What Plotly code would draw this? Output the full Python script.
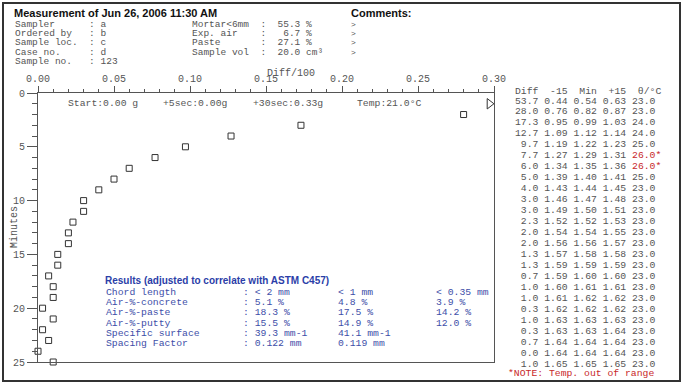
import plotly.graph_objects as go

# ---------------- data ----------------
minutes = list(range(1, 26))
diff = [53.7, 28.0, 17.3, 12.7, 9.7, 7.7, 6.0, 5.0, 4.0, 3.0, 3.0, 2.3, 2.0,
        2.0, 1.3, 1.3, 0.7, 1.0, 1.0, 0.3, 1.0, 0.3, 0.7, 0.0, 1.0]
minus15 = [0.44, 0.76, 0.95, 1.09, 1.19, 1.27, 1.34, 1.39, 1.43, 1.46, 1.49, 1.52, 1.54,
           1.56, 1.57, 1.59, 1.59, 1.60, 1.61, 1.62, 1.63, 1.63, 1.64, 1.64, 1.65]
at_min = [0.54, 0.82, 0.99, 1.12, 1.22, 1.29, 1.35, 1.40, 1.44, 1.47, 1.50, 1.52, 1.54,
          1.56, 1.58, 1.59, 1.60, 1.61, 1.62, 1.62, 1.63, 1.63, 1.64, 1.64, 1.65]
plus15 = [0.63, 0.87, 1.03, 1.14, 1.23, 1.31, 1.36, 1.41, 1.45, 1.48, 1.51, 1.53, 1.55,
          1.57, 1.58, 1.59, 1.60, 1.61, 1.62, 1.62, 1.63, 1.64, 1.64, 1.64, 1.65]
temp_c = [23.0, 23.0, 24.0, 24.0, 25.0, 26.0, 26.0, 25.0, 23.0, 23.0, 23.0, 23.0, 23.0,
          23.0, 23.0, 23.0, 23.0, 23.0, 23.0, 23.0, 23.0, 23.0, 23.0, 23.0, 23.0]
temp_limit = 25.0

info_labels = ["Sampler", "Ordered by", "Sample loc.", "Case no.", "Sample no."]
info_values = ["a", "b", "c", "d", "123"]
mix_labels = ["Mortar<6mm", "Exp. air", "Paste", "Sample vol"]
mix_values = ["55.3", "6.7", "27.1", "20.0"]
mix_units = ["%", "%", "%", "cm³"]

run_notes = ["Start:0.00 g", "+5sec:0.00g", "+30sec:0.33g", "Temp:21.0°C"]

res_labels = ["Chord length", "Air-%-concrete", "Air-%-paste", "Air-%-putty",
              "Specific surface", "Spacing Factor"]
res_col1 = ["< 2 mm", "5.1 %", "18.3 %", "15.5 %", "39.3 mm-1", "0.122 mm"]
res_col2 = ["< 1 mm", "4.8 %", "17.5 %", "14.9 %", "41.1 mm-1", "0.119 mm"]
res_col3 = ["< 0.35 mm", "3.9 %", "14.2 %", "12.0 %", "", ""]

XMAX = 0.30
YMAX = 25

# ---------------- geometry helpers ----------------
FW, FH = 685, 386
L, R, T, B = 38, 494, 93, 362
PW, PH = R - L, B - T

MONO = "Courier New, Liberation Mono, monospace"
SANS = "Arial, Liberation Sans, sans-serif"
GRAY = "#555555"
BLUE = "#2b3ea8"
BLUE2 = "#3d4ea8"
RED = "#c8282a"

annotations = []


def ann(x, y, text, size=10, color=GRAY, family=MONO, xanchor="left", angle=0):
    annotations.append(dict(
        x=(x - L) / PW, y=1 - (y - T) / PH, xref="paper", yref="paper",
        text=text, showarrow=False, xanchor=xanchor, yanchor="middle",
        textangle=angle, borderpad=0,
        font=dict(family=family, size=size, color=color)))


def nb(s):
    return s.replace(" ", "&nbsp;")


# ---------------- figure ----------------
in_x = [min(d / 100, XMAX) for d in diff]
on_scale = [d / 100 <= XMAX for d in diff]

fig = go.Figure()
fig.add_trace(go.Scatter(
    x=[x for x, ok in zip(in_x, on_scale) if ok],
    y=[m for m, ok in zip(minutes, on_scale) if ok],
    mode="markers", cliponaxis=False,
    marker=dict(symbol="square-open", size=6, color="#333333", line=dict(width=1, color="#333333")),
    hoverinfo="x+y"))
fig.add_trace(go.Scatter(
    x=[x - 0.003 for x, ok in zip(in_x, on_scale) if not ok],
    y=[m for m, ok in zip(minutes, on_scale) if not ok],
    mode="markers", cliponaxis=False,
    marker=dict(symbol="triangle-right-open", size=9, color="#333333", line=dict(width=1, color="#333333")),
    hoverinfo="y"))

# header
ann(13, 13, "<b>Measurement of Jun 26, 2006 11:30 AM</b>", size=11, color="#111111", family=SANS)
ann(350, 13, "<b>Comments:</b>", size=11, color="#111111", family=SANS)
row_y = [24.5, 33.5, 42.5, 52, 61]
for i, (lab, val) in enumerate(zip(info_labels, info_values)):
    ann(14, row_y[i], nb(f"{lab:<13}: {val}"), size=9.5)
for i, (lab, val, unit) in enumerate(zip(mix_labels, mix_values, mix_units)):
    ann(191, row_y[i], nb(f"{lab:<12}:  {val:>4} {unit}"), size=9.5)
    ann(350, row_y[i], "&gt;", size=8)

# axis title / run notes
ann(266, 73, "Diff/100", size=10)
ann(14, 227, "Minutes", size=10, angle=-90, xanchor="center")
for x, txt in zip([67, 162, 252, 356], run_notes):
    ann(x, 103, txt, size=9.75)

# results block
ann(104, 280, "<b>Results (adjusted to correlate with ASTM C457)</b>", size=10, color=BLUE, family=SANS)
for i in range(len(res_labels)):
    y = 292.3 + i * 10.3
    ann(105, y, res_labels[i], size=9.75, color=BLUE2)
    ann(242, y, nb(": " + res_col1[i]), size=9.75, color=BLUE2)
    ann(337, y, nb(res_col2[i]), size=9.75, color=BLUE2)
    if res_col3[i]:
        ann(435, y, nb(res_col3[i]), size=9.75, color=BLUE2)

# right table
ann(514, 91, nb("Diff  -15  Min  +15  θ/°C"), size=9.75)
for i in range(len(minutes)):
    y = 101 + i * 10.96
    base = f"{diff[i]:4.1f} {minus15[i]:.2f} {at_min[i]:.2f} {plus15[i]:.2f} "
    if temp_c[i] > temp_limit:
        t = f'<span style="color:{RED}">{temp_c[i]:.1f}*</span>'
    else:
        t = f"{temp_c[i]:.1f}"
    ann(514, y, nb(base) + t, size=9.75)
ann(507, 373, nb("*NOTE: Temp. out of range"), size=9.75, color=RED)

shapes = [dict(type="rect", xref="paper", yref="paper",
               x0=(3 - L) / PW, x1=(680 - L) / PW,
               y0=1 - (3 - T) / PH, y1=1 - (381 - T) / PH,
               line=dict(color="#333333", width=2), layer="below")]

fig.update_layout(
    width=FW, height=FH,
    margin=dict(l=L, r=FW - R, t=T, b=FH - B, pad=0, autoexpand=False),
    paper_bgcolor="white", plot_bgcolor="white",
    showlegend=False,
    annotations=annotations, shapes=shapes,
    xaxis=dict(range=[0, XMAX], side="top", dtick=0.05, tickformat=".2f",
               showgrid=False, zeroline=False, showline=True, linecolor=GRAY, linewidth=1,
               mirror=True, ticks="outside", ticklen=6, tickcolor=GRAY, tickwidth=1,
               automargin=False,
               tickfont=dict(family=MONO, size=10, color=GRAY),
               minor=dict(dtick=0.01, ticks="outside", ticklen=3, tickcolor=GRAY, showgrid=False)),
    yaxis=dict(range=[YMAX, 0], dtick=5,
               showgrid=False, zeroline=False, showline=True, linecolor=GRAY, linewidth=1,
               mirror=True, ticks="outside", ticklen=10, tickcolor=GRAY, tickwidth=1,
               automargin=False,
               tickfont=dict(family=MONO, size=10, color=GRAY),
               minor=dict(dtick=1, ticks="outside", ticklen=5, tickcolor=GRAY, showgrid=False)),
)

fig.write_html("out.html", config={"displayModeBar": False},
               post_script="document.body.style.margin='0';")
